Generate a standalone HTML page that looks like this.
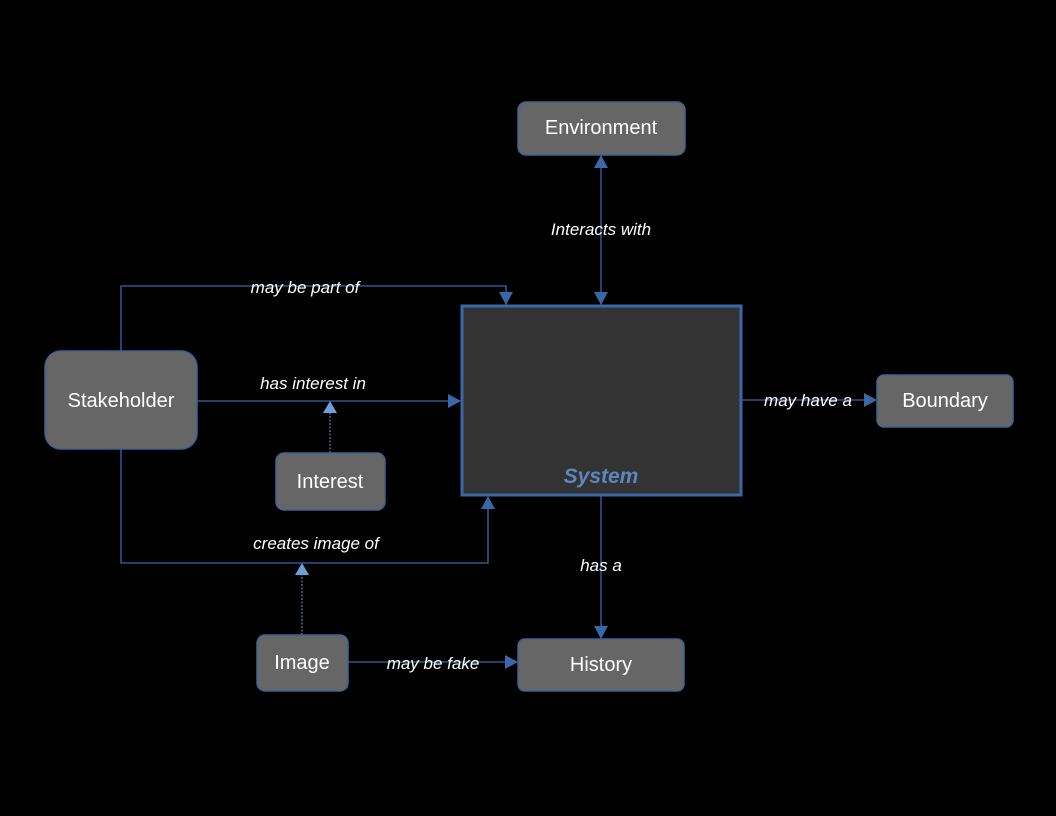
<!DOCTYPE html>
<html><head><style>
body{margin:0;background:#000;width:1056px;height:816px;overflow:hidden}
svg{display:block}
text{font-family:"Liberation Sans",sans-serif;fill:#fff}
.b{fill:#666;stroke:#3f6394;stroke-width:1.5}
.l{stroke:#3a67a8;stroke-width:1.3;fill:none}
.i{font-style:italic;font-size:17px}
.n{font-size:20px}
</style></head><body>
<svg width="1056" height="816" viewBox="0 0 1056 816">
<defs>
<marker id="a2" markerWidth="13" markerHeight="14" refX="12" refY="7" orient="auto" markerUnits="userSpaceOnUse"><path d="M0,0 L13,7 L0,14z" fill="#3a67a8"/></marker>
<marker id="lb" markerWidth="12" markerHeight="14" refX="11" refY="7" orient="auto" markerUnits="userSpaceOnUse"><path d="M0,0 L12,7 L0,14z" fill="#6d9fd9"/></marker>
</defs>
<polyline class="l" points="121,351 121,286 506,286 506,304" marker-end="url(#a2)"/>
<line class="l" x1="197" y1="401" x2="460" y2="401" marker-end="url(#a2)"/>
<polyline class="l" points="121,449 121,563 488,563 488,497" marker-end="url(#a2)"/>
<line class="l" x1="601" y1="230" x2="601" y2="156" marker-end="url(#a2)"/>
<line class="l" x1="601" y1="230" x2="601" y2="304" marker-end="url(#a2)"/>
<line class="l" x1="742" y1="400" x2="876" y2="400" marker-end="url(#a2)"/>
<line class="l" x1="601" y1="496" x2="601" y2="638" marker-end="url(#a2)"/>
<line class="l" x1="348" y1="662" x2="517" y2="662" marker-end="url(#a2)"/>
<line x1="330" y1="453" x2="330" y2="402" stroke="#6d9fd9" stroke-width="1" stroke-dasharray="2,1.5" marker-end="url(#lb)"/>
<line x1="302" y1="635" x2="302" y2="564" stroke="#6d9fd9" stroke-width="1" stroke-dasharray="2,1.5" marker-end="url(#lb)"/>
<rect x="462" y="306" width="279" height="189" fill="#333" stroke="#3a67a8" stroke-width="3"/>
<text x="601" y="483" text-anchor="middle" font-size="21" font-weight="bold" font-style="italic" style="fill:#5d86bd">System</text>
<rect class="b" x="518" y="102" width="167" height="53" rx="8"/>
<text class="n" x="601" y="134" text-anchor="middle">Environment</text>
<rect class="b" x="45" y="351" width="152" height="98" rx="16"/>
<text class="n" x="121" y="407" text-anchor="middle">Stakeholder</text>
<rect class="b" x="877" y="375" width="136" height="52" rx="7"/>
<text class="n" x="945" y="407" text-anchor="middle">Boundary</text>
<rect class="b" x="276" y="453" width="109" height="57" rx="8"/>
<text class="n" x="330" y="488" text-anchor="middle">Interest</text>
<rect class="b" x="257" y="635" width="91" height="56" rx="8"/>
<text class="n" x="302" y="669" text-anchor="middle">Image</text>
<rect class="b" x="518" y="639" width="166" height="52" rx="7"/>
<text class="n" x="601" y="671" text-anchor="middle">History</text>
<text class="i" x="305" y="293" text-anchor="middle">may be part of</text>
<text class="i" x="313" y="389" text-anchor="middle">has interest in</text>
<text class="i" x="316" y="549" text-anchor="middle">creates image of</text>
<text class="i" x="601" y="235" text-anchor="middle">Interacts with</text>
<text class="i" x="808" y="406" text-anchor="middle">may have a</text>
<text class="i" x="601" y="571" text-anchor="middle">has a</text>
<text class="i" x="433" y="669" text-anchor="middle">may be fake</text>
</svg>
</body></html>
